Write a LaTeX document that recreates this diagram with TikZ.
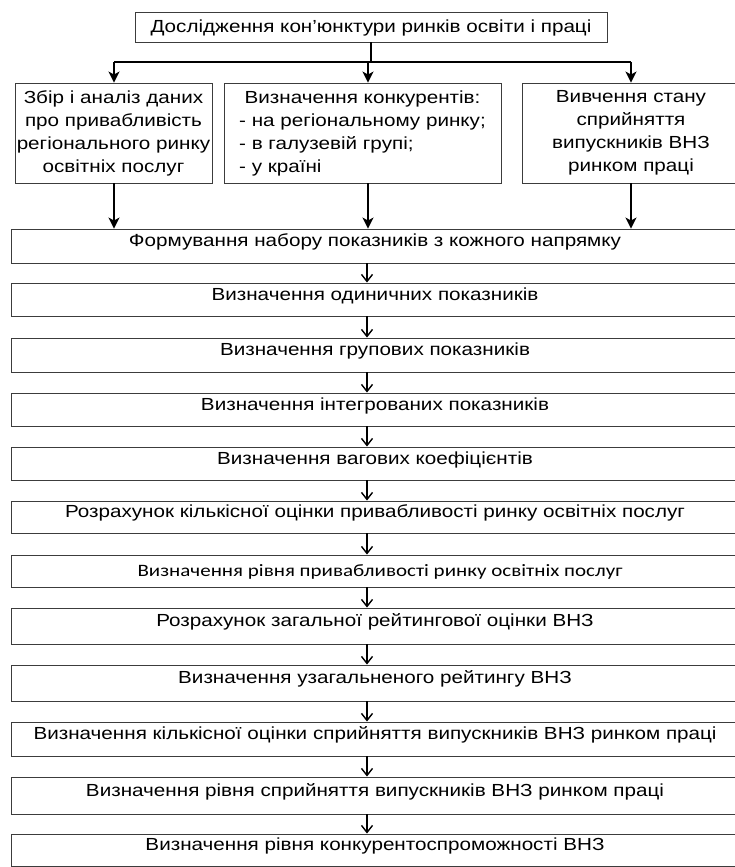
\documentclass[tikz,border=0pt]{standalone}
\usepackage{fontspec}
\usetikzlibrary{arrows.meta}
\setmainfont{Liberation Sans}[FakeStretch=1.18]
\newfontfamily\carlitofont{Carlito}
\definecolor{boxgray}{HTML}{3C3C3C}
\newlength\tmpw
\newcommand\fitx[2]{\settowidth\tmpw{#2}\pgfmathsetmacro\fx{#1/\tmpw}\scalebox{\fx}[1]{#2}}
\tikzset{
  box/.style={draw=boxgray, line width=0.9pt, inner sep=0pt, font=\fontsize{17.5}{23}\selectfont},
  chainbox/.style={box, minimum width=728pt, text height=12pt, text depth=11pt},
  arr/.style={-{Stealth[length=11pt,width=11pt,inset=3pt]}, line width=1.7pt},
  carr/.style={-{Straight Barb[length=7pt,width=11pt]}, line width=1.4pt},
}
\begin{document}
\begin{tikzpicture}[x=1pt,y=-1pt]
\useasboundingbox (0,0) rectangle (734,867);
% top
\node[box, minimum width=472pt, minimum height=30pt, text height=12pt, text depth=0pt] (top) at (371,27) {Дослідження кон’юнктури ринків освіти і праці};
% second row
\node[box, minimum width=197pt, minimum height=100pt, align=center] (b1) at (113.5,133) {Збір і аналіз даних\\про привабливість\\регіонального ринку\\освітніх послуг};
\node[box, minimum width=277pt, minimum height=100pt] (b2) at (362.5,133) {\begin{tabular}{@{}l@{}}\multicolumn{1}{@{}c@{}}{Визначення конкурентів:}\\- на регіональному ринку;\\- в галузевій групі;\\- у країні\end{tabular}};
\node[box, minimum width=218pt, minimum height=100pt, align=center] (b3) at (631,133) {Вивчення стану\\сприйняття\\випускників ВНЗ\\ринком праці};
% chain
\node[chainbox, minimum height=34pt] (f1) at (375,246) {Формування набору показників з кожного напрямку};
\node[chainbox, minimum height=33pt] (f2) at (375,299.5) {Визначення одиничних показників};
\node[chainbox, minimum height=34pt] (f3) at (375,355) {Визначення групових показників};
\node[chainbox, minimum height=33pt] (f4) at (375,409.5) {Визначення інтегрованих показників};
\node[chainbox, minimum height=33pt] (f5) at (375,463.5) {Визначення вагових коефіцієнтів};
\node[chainbox, minimum height=32pt] (f6) at (375,517) {Розрахунок кількісної оцінки привабливості ринку освітніх послуг};
\node[chainbox, minimum height=32pt, text height=10pt, text depth=0pt, font=\fontsize{17.4}{23}\selectfont\carlitofont] (f7) at (375,571) {\hspace*{10pt}\fitx{485}{Визначення рівня привабливості ринку освітніх послуг}};
\node[chainbox, minimum height=36pt] (f8) at (375,626) {Розрахунок загальної рейтингової оцінки ВНЗ};
\node[chainbox, minimum height=36pt] (f9) at (375,683) {Визначення узагальненого рейтингу ВНЗ};
\node[chainbox, minimum height=34pt] (f10) at (375,739) {Визначення кількісної оцінки сприйняття випускників ВНЗ ринком праці};
\node[chainbox, minimum height=37pt] (f11) at (375,795.5) {Визначення рівня сприйняття випускників ВНЗ ринком праці};
\node[chainbox, minimum height=32pt] (f12) at (375,850) {Визначення рівня конкурентоспроможності ВНЗ};
% connectors
\coordinate (j) at (371,62);
\coordinate (cl) at (114,0);
\coordinate (cm) at (368,0);
\coordinate (cr) at (631,0);
\coordinate (ca) at (367,0);
\draw[line width=1.5pt] (top.south) -- (j);
\draw[line width=1.2pt] (j -| cl) -- (j -| cr);
\draw[arr] (j -| cl) -- (b1.north -| cl);
\draw[arr] (j -| cm) -- (b2.north -| cm);
\draw[arr] (j -| cr) -- (b3.north -| cr);
\draw[arr] (b1.south -| cl) -- (f1.north -| cl);
\draw[arr] (b2.south -| cm) -- (f1.north -| cm);
\draw[arr] (b3.south -| cr) -- (f1.north -| cr);
\foreach \i [evaluate=\i as \j using int(\i+1)] in {1,...,11}
  \draw[carr] (f\i.south -| ca) -- (f\j.north -| ca);
\end{tikzpicture}
\end{document}
